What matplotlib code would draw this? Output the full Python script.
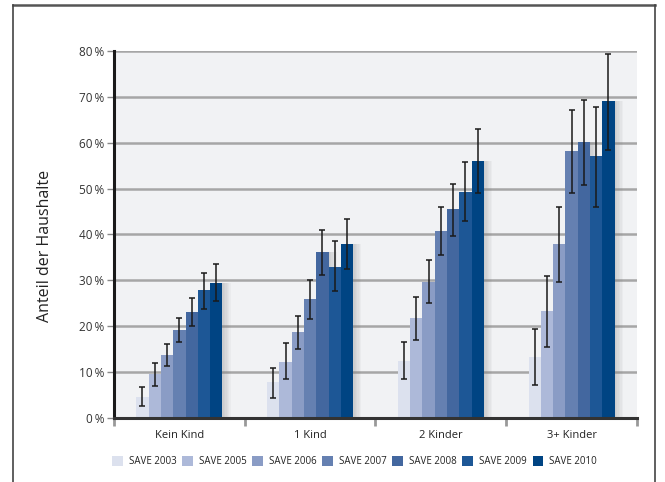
import numpy as np
import matplotlib
matplotlib.use("Agg")
import matplotlib.pyplot as plt
import matplotlib.patheffects as pe
from matplotlib.lines import Line2D
from matplotlib.patches import Patch

plt.rcParams['font.family'] = ['Open Sans', 'DejaVu Sans']

groups = ["Kein Kind", "1 Kind", "2 Kinder", "3+ Kinder"]
waves = ["SAVE 2003", "SAVE 2005", "SAVE 2006", "SAVE 2007", "SAVE 2008", "SAVE 2009", "SAVE 2010"]
colors = ["#dce1ee", "#adb9d9", "#8a9cc5", "#6580b1", "#43679f", "#1d5796", "#004483"]

# share of households (%) per wave, one list per group
share = {
    "Kein Kind": [4.6, 9.6, 13.7, 19.2, 23.1, 27.9, 29.4],
    "1 Kind":    [7.8, 12.2, 18.7, 25.9, 36.2, 33.0, 37.9],
    "2 Kinder":  [12.4, 21.8, 29.6, 40.8, 45.6, 49.3, 56.0],
    "3+ Kinder": [13.3, 23.3, 37.9, 58.2, 60.2, 57.1, 69.1],
}
upper = {
    "Kein Kind": [6.8, 11.9, 16.1, 21.7, 26.1, 31.5, 33.5],
    "1 Kind":    [10.8, 16.3, 22.2, 30.0, 41.0, 38.6, 43.4],
    "2 Kinder":  [16.6, 26.4, 34.4, 46.1, 50.9, 55.7, 62.9],
    "3+ Kinder": [19.3, 30.9, 46.1, 67.1, 69.3, 67.9, 79.4],
}
lower = {
    "Kein Kind": [2.6, 6.9, 11.4, 16.5, 20.0, 23.7, 25.4],
    "1 Kind":    [4.3, 8.4, 15.0, 21.5, 31.1, 27.6, 32.4],
    "2 Kinder":  [8.4, 16.9, 25.0, 35.5, 39.6, 42.9, 49.0],
    "3+ Kinder": [7.3, 15.4, 29.6, 49.1, 50.7, 46.1, 58.4],
}

fig = plt.figure(figsize=(6.65, 4.82), dpi=100)
ax = fig.add_axes([0.1714, 0.1328, 0.7865, 0.7614])
ax.set_facecolor("#f1f2f4")

bw = 0.094
x = np.arange(len(groups))
# soft drop shadow: a few faint offset copies stacked up
shadow = [pe.SimplePatchShadow(offset=(k, 0), shadow_rgbFace="#808080", alpha=0.06)
          for k in (1, 2, 3, 4, 5, 6)] + [pe.Normal()]
for i, (w, c) in enumerate(zip(waves, colors)):
    pos = x + (i - 3) * bw
    vals = np.array([share[g][i] for g in groups])
    hi = np.array([upper[g][i] for g in groups])
    lo = np.array([lower[g][i] for g in groups])
    bars = ax.bar(pos, vals, width=bw, color=c, zorder=3)
    for b in bars:
        b.set_path_effects(shadow)
    ax.errorbar(pos, vals, yerr=[vals - lo, hi - vals], fmt="none", ecolor="#1a1a1a",
                elinewidth=1.1, capsize=2.5, capthick=1.1, zorder=5)

ax.set_xlim(-0.5, 3.5)
ax.set_ylim(0, 80)
ax.set_yticks(np.arange(0, 81, 10))
ax.set_yticklabels([f"{v}\u2009%" for v in range(0, 81, 10)], fontsize=8.5, color="#333333")
ax.yaxis.grid(True, color="#a6a6a6", linewidth=1.8, zorder=1)
ax.set_axisbelow(True)
ax.tick_params(axis="y", length=5, width=1, color="#888888", pad=2)

ax.set_xticks(np.arange(-0.5, 3.6, 1.0))
ax.set_xticklabels([])
ax.set_xticks(x, minor=True)
ax.set_xticklabels(groups, minor=True, fontsize=8, color="#222222")
ax.tick_params(axis="x", which="major", length=6, width=2, color="#999999")
ax.tick_params(axis="x", which="minor", length=0, pad=9)

for s in ("top", "right"):
    ax.spines[s].set_visible(False)
ax.spines["left"].set_linewidth(2.2)
ax.spines["left"].set_color("#1a1a1a")
ax.spines["bottom"].set_linewidth(2.2)
ax.spines["bottom"].set_color("#333333")
ax.spines["bottom"].set_zorder(6)

fig.text(0.068, 0.49, "Anteil der Haushalte", rotation=90, ha="center", va="center",
         fontsize=11.5, color="#222222")

handles = [Patch(facecolor=c, label=w) for w, c in zip(waves, colors)]
fig.legend(handles=handles, loc="center", bbox_to_anchor=(0.533, 0.042), ncol=7, frameon=False,
           fontsize=7, handlelength=1.1, handleheight=1.1, handletextpad=0.6,
           columnspacing=0.6, labelcolor="#222222")

# outer frame
fig.add_artist(Line2D([0.0195, 0.985], [0.99, 0.99], color="#555555", linewidth=1.8))
fig.add_artist(Line2D([0.0195, 0.0195], [0.0, 0.99], color="#444444", linewidth=1.2))
fig.add_artist(Line2D([0.985, 0.985], [0.0, 0.99], color="#444444", linewidth=1.2))

fig.savefig("out.png", dpi=100)
